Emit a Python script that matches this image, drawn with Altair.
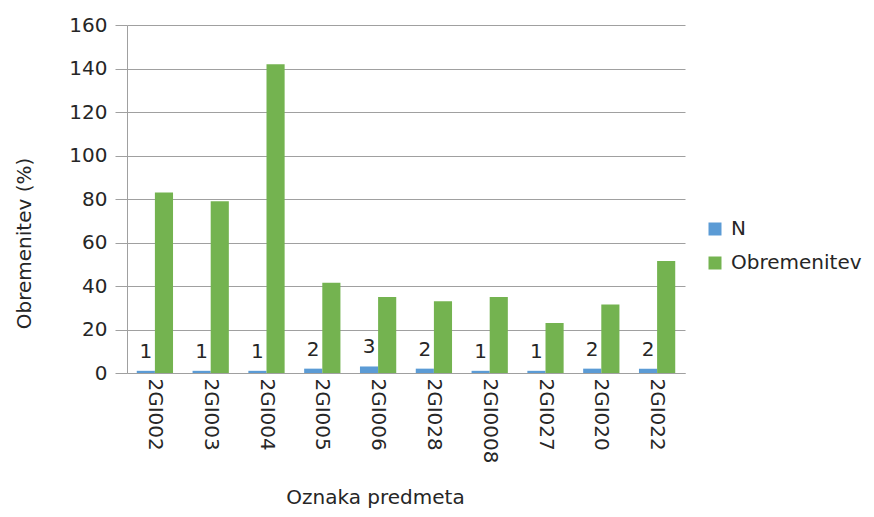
import altair as alt
import pandas as pd

categories = ["2GI002", "2GI003", "2GI004", "2GI005", "2GI006",
              "2GI028", "2GI0008", "2GI027", "2GI020", "2GI022"]
n_values = [1, 1, 1, 2, 3, 2, 1, 1, 2, 2]
obremenitev = [83, 79, 142, 41.5, 35, 33, 35, 23, 31.5, 51.5]
series_names = ["N", "Obremenitev"]
y_ticks = [0, 20, 40, 60, 80, 100, 120, 140, 160]

rows = []
for c, n, o in zip(categories, n_values, obremenitev):
    rows.append({"cat": c, "series": "N", "value": n, "label": str(n)})
    rows.append({"cat": c, "series": "Obremenitev", "value": o, "label": ""})
df = pd.DataFrame(rows)

FONT = "DejaVu Sans"
TXT = "#262626"
GRID = "#a0a0a0"

x_enc = alt.X("cat:N", sort=categories,
              scale=alt.Scale(paddingInner=0.35, paddingOuter=0.175),
              axis=alt.Axis(title="Oznaka predmeta", labelAngle=90, labelAlign="left",
                            labelBaseline="middle", labelPadding=5, ticks=False,
                            domainColor=GRID, labelFont=FONT, labelFontSize=20,
                            labelColor=TXT, titleFont=FONT, titleFontSize=20,
                            titleFontWeight="normal", titleColor=TXT,
                            titleX=248, titleY=124, titleBaseline="middle",
                            titleAlign="center", grid=False))
xoff = alt.XOffset("series:N", scale=alt.Scale(domain=series_names, paddingInner=0,
                                               paddingOuter=0))
y_enc = alt.Y("value:Q", scale=alt.Scale(domain=[0, 160], nice=False),
              axis=alt.Axis(title="Obremenitev (%)", values=y_ticks, tickSize=12,
                            tickColor=GRID, domainColor=GRID, gridColor=GRID,
                            labelPadding=8, labelFont=FONT, labelFontSize=20,
                            labelColor=TXT, titleFont=FONT, titleFontSize=20,
                            titleFontWeight="normal", titleColor=TXT,
                            titleX=-103, titleY=218, titleBaseline="middle",
                            titleAlign="center", titleAngle=270))

bars = alt.Chart(df).mark_bar().encode(
    x=x_enc, xOffset=xoff, y=y_enc, y2=alt.value(351.5),
    color=alt.Color("series:N",
                    scale=alt.Scale(domain=series_names, range=["#5b9bd5", "#74b350"]),
                    legend=alt.Legend(title=None, orient="none", legendX=578, legendY=194,
                                      symbolType="square", symbolSize=169,
                                      symbolStrokeWidth=0, labelFont=FONT,
                                      labelFontSize=20, labelColor=TXT, labelOffset=6,
                                      rowPadding=14, padding=0))
)

labels = alt.Chart(df).transform_filter(alt.datum.series == "N").mark_text(
    font=FONT, fontSize=20, color=TXT, baseline="alphabetic", dy=-13
).encode(x=alt.X("cat:N", sort=categories), xOffset=xoff, y="value:Q", text="label:N")

chart = alt.layer(bars, labels).properties(
    width=558, height=348,
    autosize=alt.AutoSizeParams(type="none"),
    padding={"left": 119, "top": 17, "right": 181, "bottom": 136},
    background="white",
).configure_view(stroke=None)

chart.save("out.html", embed_options={"renderer": "svg", "actions": False})
